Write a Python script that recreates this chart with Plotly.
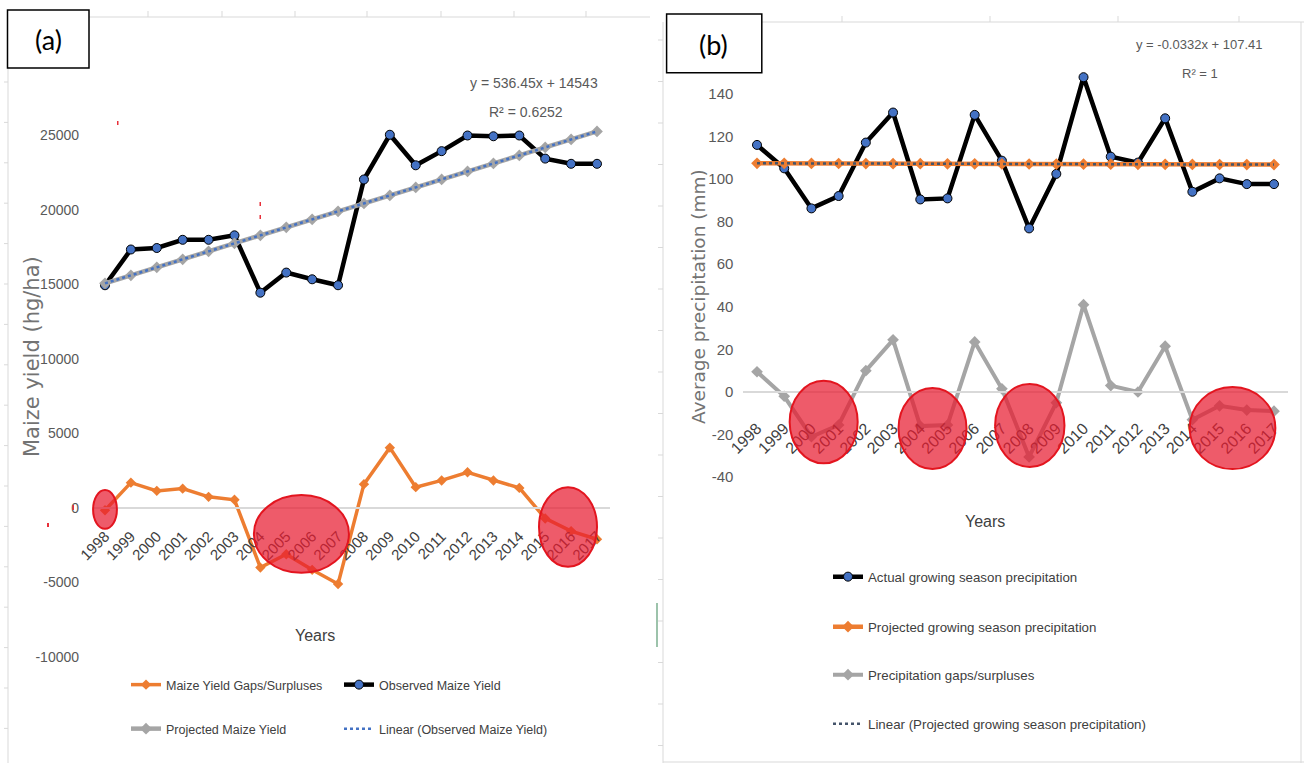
import plotly.graph_objects as go

W, H = 1304, 763


def fx(px):
    """Horizontal pixel -> paper fraction."""
    return px / W


def fy(py):
    """Vertical pixel (from top) -> paper fraction."""
    return 1 - py / H


# ---------------- data ----------------
years = list(range(1998, 2018))

# (a) maize yield, hg/ha
observed_yield = [14950, 17350, 17450, 18000, 18000, 18300, 14450, 15800, 15350, 14950,
                  22050, 25050, 23000, 23950, 25000, 24950, 25000, 23450, 23100, 23100]
projected_yield = [15079, 15616, 16152, 16689, 17225, 17762, 18298, 18835, 19371, 19908,
                   20444, 20980, 21517, 22053, 22590, 23126, 23663, 24199, 24736, 25272]
yield_gap = [-150, 1700, 1150, 1300, 750, 550, -4000, -3100, -4150, -5100,
             1600, 4050, 1400, 1850, 2400, 1850, 1350, -700, -1550, -2100]

# (b) growing season precipitation, mm
actual_precip = [116.0, 105.0, 86.2, 92.0, 117.1, 131.2, 90.4, 90.9, 130.1, 108.6,
                 76.8, 102.4, 147.8, 110.5, 107.7, 128.5, 94.0, 100.3, 97.6, 97.6]
projected_precip = [107.38, 107.34, 107.31, 107.28, 107.24, 107.21, 107.18, 107.14, 107.11, 107.08,
                    107.04, 107.01, 106.98, 106.94, 106.91, 106.88, 106.85, 106.81, 106.78, 106.75]
precip_gap = [9.5, -2.0, -21.0, -15.5, 10.0, 24.5, -16.0, -15.5, 23.5, 1.5,
              -30.5, -5.0, 41.0, 3.0, 0.0, 21.5, -13.0, -6.5, -8.5, -9.0]

yield_ticks = [25000, 20000, 15000, 10000, 5000, 0, -5000, -10000]
precip_ticks = [140, 120, 100, 80, 60, 40, 20, 0, -20, -40]

# highlighted stretches: (x0, x1, y0, y1) in axis units
yield_highlights = [(1997.54, 1998.46, -1400, 1200),
                    (2003.75, 2007.42, -4350, 870),
                    (2014.76, 2017.0, -3950, 1400)]
precip_highlights = [(1999.2, 2001.7, -33.5, 5.3),
                     (2003.2, 2005.7, -36.2, 1.9),
                     (2006.75, 2009.3, -35.2, 3.8),
                     (2013.9, 2017.05, -36.2, 2.3)]

NARROW = "Liberation Sans Narrow, Arial Narrow, Liberation Sans, sans-serif"
WIDE = "DejaVu Sans, Verdana, sans-serif"
TXT = "#404040"
LBL = "#595959"

BLUE = "#4472c4"
ORANGE = "#ed7d31"
GREY = "#a5a5a5"

fig = go.Figure()

# ---------------- panel (a) ----------------
fig.add_trace(go.Scatter(
    x=years, y=yield_gap, name="Maize Yield Gaps/Surpluses", mode="lines+markers",
    line=dict(color=ORANGE, width=3.5),
    marker=dict(symbol="diamond", size=8, color=ORANGE),
    xaxis="x", yaxis="y", legend="legend"))
fig.add_trace(go.Scatter(
    x=years, y=observed_yield, name="Observed Maize Yield", mode="lines+markers",
    line=dict(color="black", width=4.5),
    marker=dict(symbol="circle", size=9, color=BLUE, line=dict(color="black", width=1)),
    xaxis="x", yaxis="y", legend="legend2"))
fig.add_trace(go.Scatter(
    x=years, y=projected_yield, name="Projected Maize Yield", mode="lines+markers",
    line=dict(color=GREY, width=4.5),
    marker=dict(symbol="diamond", size=9, color=GREY),
    xaxis="x", yaxis="y", legend="legend3"))
fig.add_trace(go.Scatter(
    x=years, y=projected_yield, name="Linear (Observed Maize Yield)", mode="lines",
    line=dict(color=BLUE, width=2.5, dash="dot"),
    xaxis="x", yaxis="y", legend="legend4"))

# ---------------- panel (b) ----------------
fig.add_trace(go.Scatter(
    x=years, y=actual_precip, name="Actual growing season precipitation", mode="lines+markers",
    line=dict(color="black", width=4.5),
    marker=dict(symbol="circle", size=9, color=BLUE, line=dict(color="black", width=1)),
    xaxis="x2", yaxis="y2", legend="legend5"))
fig.add_trace(go.Scatter(
    x=years, y=projected_precip, name="Projected growing season precipitation", mode="lines+markers",
    line=dict(color=ORANGE, width=4.5),
    marker=dict(symbol="diamond", size=9, color=ORANGE),
    xaxis="x2", yaxis="y2", legend="legend6"))
fig.add_trace(go.Scatter(
    x=years, y=precip_gap, name="Precipitation gaps/surpluses", mode="lines+markers",
    line=dict(color=GREY, width=4),
    marker=dict(symbol="diamond", size=9, color=GREY),
    xaxis="x2", yaxis="y2", legend="legend7"))
fig.add_trace(go.Scatter(
    x=years, y=projected_precip, name="Linear (Projected growing season precipitation)", mode="lines",
    line=dict(color="#44546a", width=2.5, dash="dot"),
    xaxis="x2", yaxis="y2", legend="legend8"))

# ---------------- axes ----------------
# (a): 1998 at px 105, 25.9 px / year; 0 at px 508, 14.9 px / 1000
ya_top, ya_bot = 40, 700
yield_range = [(508 - ya_bot) / 0.0149, (508 - ya_top) / 0.0149]
# (b): 1998 at px 757, 27.21 px / year; 0 at px 392, 2.13 px / mm
yb_top, yb_bot = 30, 700
precip_range = [(392 - yb_bot) / 2.13, (392 - yb_top) / 2.13]

common_x = dict(
    range=[1997.5, 2017.5], tickvals=years, ticktext=[str(y) for y in years],
    tickangle=-45, ticks="", showgrid=False, zeroline=False, automargin=False,
    showline=True, linecolor="#d9d9d9", linewidth=1.5, anchor="free",
)
common_y = dict(ticks="", showgrid=False, zeroline=False, showline=False, automargin=False)

fig.update_layout(
    xaxis=dict(domain=[fx(105 - 12.95), fx(597 + 12.95)], position=fy(508),
               ticklabelstandoff=13,
               tickfont=dict(family=NARROW, size=15, color=TXT), **common_x),
    yaxis=dict(domain=[fy(ya_bot), fy(ya_top)], range=yield_range, anchor="x",
               tickvals=yield_ticks, ticktext=[str(v) for v in yield_ticks],
               ticklabelstandoff=12,
               tickfont=dict(family=NARROW, size=14, color=LBL), **common_y),
    xaxis2=dict(domain=[fx(757 - 13.6), fx(1274 + 13.6)], position=fy(392),
                ticklabelstandoff=20,
                tickfont=dict(family=NARROW, size=16, color=TXT), **common_x),
    yaxis2=dict(domain=[fy(yb_bot), fy(yb_top)], range=precip_range, anchor="x2",
                tickvals=precip_ticks, ticktext=[str(v) for v in precip_ticks],
                ticklabelstandoff=9,
                tickfont=dict(family=NARROW, size=15, color=LBL), **common_y),
)

# ---------------- legends ----------------
def legend_at(sym_x, row_y, size):
    return dict(x=fx(sym_x - 5), y=fy(row_y), xanchor="left", yanchor="middle",
                bgcolor="rgba(0,0,0,0)", borderwidth=0, itemwidth=30,
                font=dict(family=NARROW, size=size, color=TXT))


fig.update_layout(
    legend=legend_at(131, 685, 12.5),
    legend2=legend_at(344, 685, 12.5),
    legend3=legend_at(131, 729, 12.5),
    legend4=legend_at(344, 729, 12.5),
    legend5=legend_at(833, 577, 13.3),
    legend6=legend_at(833, 627, 13.3),
    legend7=legend_at(833, 675, 13.3),
    legend8=legend_at(833, 724, 13.3),
)

# ---------------- shapes ----------------
shapes = []
FRAME = "#d9d9d9"


def pline(x0, y0, x1, y1, color=FRAME, width=1):
    shapes.append(dict(type="line", xref="paper", yref="paper",
                       x0=fx(x0), y0=fy(y0), x1=fx(x1), y1=fy(y1),
                       line=dict(color=color, width=width), layer="below"))


# outer frame of panel (a)
pline(89, 17, 650, 17)
for tx in [148, 222, 295, 367, 441, 514, 586]:
    pline(tx, 11, tx, 17)
pline(8, 68, 8, 763)
for k in range(17):
    ty = 82 + 40.4 * k
    pline(4, ty, 8, ty)

# outer frame of panel (b)
pline(762, 22, 1304, 22)
for tx in [842, 990, 1118, 1239]:
    pline(tx, 16, tx, 22)
pline(663, 22, 663, 763)
for k in range(18):
    ty = 40 + 41.5 * k
    pline(658, ty, 663, ty)
pline(663, 762, 1304, 762)
pline(1301, 22, 1301, 763)
pline(657, 603, 657, 647, color="#5b9b73", width=1.2)

# panel label boxes
for (x0, y0, x1, y1) in [(7.5, 10, 89, 68), (666.6, 14, 761.8, 72.7)]:
    shapes.append(dict(type="rect", xref="paper", yref="paper",
                       x0=fx(x0), y0=fy(y1), x1=fx(x1), y1=fy(y0),
                       line=dict(color="black", width=1.5), fillcolor="white"))

# small red specks
for (x0, y0, x1, y1) in [(117, 121, 118.5, 125), (259.5, 202, 261, 206),
                         (259.5, 215, 261, 219), (47, 523, 49, 527), (72.5, 505, 74, 510)]:
    shapes.append(dict(type="rect", xref="paper", yref="paper",
                       x0=fx(x0), y0=fy(y1), x1=fx(x1), y1=fy(y0),
                       line=dict(width=0), fillcolor="#e8303a"))

# highlight ellipses
for axes, regions in [(("x", "y"), yield_highlights), (("x2", "y2"), precip_highlights)]:
    for (x0, x1, y0, y1) in regions:
        shapes.append(dict(type="circle", xref=axes[0], yref=axes[1],
                           x0=x0, x1=x1, y0=y0, y1=y1, layer="above",
                           fillcolor="rgba(232, 28, 48, 0.72)",
                           line=dict(color="#e3151f", width=2)))

fig.update_layout(shapes=shapes)

# ---------------- text ----------------
ann = []


def text(x, y, s, size, color=LBL, family=NARROW, angle=0):
    ann.append(dict(x=fx(x), y=fy(y), xref="paper", yref="paper", text=s,
                    showarrow=False, textangle=angle, xanchor="center", yanchor="middle",
                    font=dict(family=family, size=size, color=color)))


text(48, 39, "(a)", 27, color="black", family="Lato, Carlito, sans-serif")
text(714, 44, "(b)", 27, color="black", family="Lato, Carlito, sans-serif")

text(534, 83, "y = 536.45x + 14543", 14)
text(526, 112, "R² = 0.6252", 14)
text(1199, 44, "y = -0.0332x + 107.41", 13)
text(1200, 74, "R² = 1", 13)

text(32, 357, "Maize yield (hg/ha)", 21, color="#737373", family=WIDE, angle=-90)
text(698, 297, "Average precipitation (mm)", 18.5, color="#737373", family=WIDE, angle=-90)

text(315, 635, "Years", 16, color=TXT)
text(985, 521, "Years", 16, color=TXT)

fig.update_layout(annotations=ann)

fig.update_layout(
    width=W, height=H, autosize=False,
    margin=dict(l=0, r=0, t=0, b=0),
    paper_bgcolor="white", plot_bgcolor="white",
    showlegend=True,
)

fig.write_html("out.html")
